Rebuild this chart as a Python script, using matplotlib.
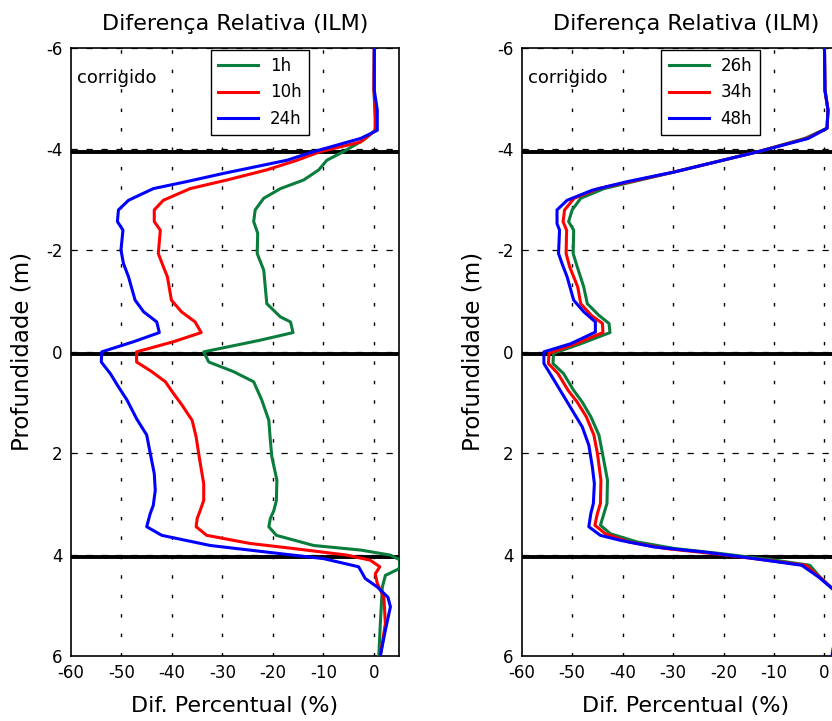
import matplotlib
matplotlib.use("Agg")
import matplotlib.pyplot as plt

plt.rcParams['font.family'] = ['DejaVu Sans']

# ---------------- data ----------------
title = "Diferença Relativa (ILM)"
xlabel = "Dif. Percentual (%)"
ylabel = "Profundidade (m)"
note = "corrigido"
xticks = [-60, -50, -40, -30, -20, -10, 0]
yticks = [-6, -4, -2, 0, 2, 4, 6]
interfaces = [-3.95, 0.05, 4.05]

left_labels = ["1h", "10h", "24h"]
right_labels = ["26h", "34h", "48h"]
colors = ["#0a7d3c", "#ff0000", "#0000ff"]

# left panel
l1_depth = [-6.0, -5.0, -4.6, -4.37, -4.18, -3.95, -3.78, -3.59, -3.39, -3.22, -3.03, -2.80, -2.57, -2.34,
            -1.94, -1.61, -1.28, -0.95, -0.69, -0.59, -0.38, -0.23, 0.0, 0.2, 0.39, 0.59, 0.95, 1.35, 1.74,
            2.07, 2.53, 2.93, 3.13, 3.29, 3.45, 3.62, 3.82, 3.91, 4.01, 4.11, 4.28, 4.41, 4.64, 5.36, 6.0]
l1_val = [0.1, 0.1, 0.3, 0.3, -2.0, -6.0, -9.3, -10.9, -13.9, -18.5, -21.8, -23.5, -23.8, -23.0,
          -23.1, -21.8, -21.5, -21.2, -18.5, -16.5, -16.0, -22.5, -33.7, -32.7, -27.8, -23.8, -22.2, -20.8, -20.5,
          -20.2, -19.2, -19.3, -19.8, -20.5, -20.8, -19.3, -11.9, -2.6, 3.3, 5.3, 5.0, 2.3, 1.7, 1.3, 1.0]

l10_depth = [-6.0, -5.2, -4.77, -4.37, -4.14, -3.95, -3.78, -3.59, -3.39, -3.22, -2.99, -2.80, -2.57, -2.40,
             -1.94, -1.68, -1.48, -1.02, -0.79, -0.59, -0.38, -0.20, 0.0, 0.2, 0.39, 0.59, 0.82, 1.05, 1.35,
             1.68, 2.07, 2.60, 2.93, 3.13, 3.29, 3.45, 3.62, 3.78, 3.88, 4.01, 4.11, 4.24, 4.38, 4.57, 4.84,
             5.36, 6.0]
l10_val = [0.1, 0.0, 0.3, 0.3, -2.6, -10.6, -15.2, -21.2, -29.1, -36.4, -41.7, -43.5, -43.5, -42.3,
           -42.7, -41.7, -40.9, -40.1, -38.1, -35.4, -34.2, -39.7, -47.0, -47.0, -44.0, -41.3, -39.7, -38.0, -36.0,
           -35.2, -34.6, -33.7, -33.7, -34.4, -35.0, -35.2, -33.1, -24.5, -15.9, -5.3, -0.7, 1.2, 0.3, 0.7, 2.0,
           2.3, 1.3]

l24_depth = [-6.0, -5.16, -4.77, -4.37, -4.21, -3.95, -3.78, -3.52, -3.36, -3.22, -2.99, -2.80, -2.57, -2.40,
             -2.01, -1.74, -1.48, -1.02, -0.79, -0.59, -0.38, -0.20, 0.0, 0.2, 0.43, 0.69, 0.95, 1.32, 1.64,
             2.0, 2.40, 2.73, 3.03, 3.19, 3.45, 3.62, 3.82, 3.95, 4.08, 4.24, 4.47, 4.64, 4.84, 5.03, 5.49, 6.0]
l24_val = [0.1, 0.1, 0.7, 0.7, -2.6, -11.9, -17.2, -29.8, -37.0, -43.7, -48.6, -50.6, -50.8, -49.7,
           -50.1, -49.6, -48.6, -47.3, -45.6, -43.0, -42.5, -47.6, -53.9, -54.0, -52.2, -50.6, -48.9, -47.0, -45.0,
           -44.3, -43.5, -43.3, -43.7, -44.3, -45.0, -42.0, -32.4, -21.2, -9.9, -3.0, -1.7, 0.7, 2.8, 3.3, 2.3, 1.3]

# right panel
r_depth = [-6.0, -5.16, -4.77, -4.41, -4.21, -3.95, -3.55, -3.22, -3.03, -2.80, -2.57, -2.40, -1.94, -1.68,
           -1.28, -0.95, -0.72, -0.56, -0.38, -0.16, 0.03, 0.23, 0.43, 0.76, 0.99, 1.28, 1.64, 2.0, 2.53, 2.99,
           3.19, 3.42, 3.59, 3.75, 3.88, 3.98, 4.11, 4.21, 4.44, 4.70, 5.0, 5.5, 6.0]
r26_val = [0.0, 0.1, 0.7, 0.5, -3.9, -13.1, -29.7, -43.7, -48.3, -50.0, -50.7, -49.7, -49.8, -49.0,
           -47.7, -47.0, -44.7, -42.7, -42.5, -48.3, -53.7, -53.8, -51.7, -49.7, -48.0, -46.3, -44.7, -44.0, -43.0,
           -43.1, -43.7, -44.4, -42.4, -37.1, -29.7, -20.5, -9.8, -2.9, -0.9, 1.9, 2.8, 2.6, 2.3]
r34_val = [0.0, 0.1, 0.7, 0.5, -3.5, -13.1, -29.7, -44.8, -49.6, -51.5, -51.8, -51.1, -51.2, -50.5,
           -48.9, -48.3, -46.2, -44.0, -43.9, -49.3, -54.6, -54.7, -52.8, -50.8, -49.0, -47.2, -45.7, -45.0, -44.3,
           -44.4, -45.0, -45.5, -43.4, -38.8, -31.5, -22.0, -11.5, -3.7, -1.0, 1.9, 3.0, 2.7, 2.2]
r48_depth = [-6.0, -5.16, -4.77, -4.41, -4.21, -3.95, -3.55, -3.36, -3.19, -2.99, -2.80, -2.53, -2.40, -1.94,
             -1.74, -1.48, -1.02, -0.79, -0.59, -0.39, -0.16, 0.0, 0.23, 0.49, 0.82, 1.15, 1.48, 1.84, 2.27, 2.60,
             2.99, 3.19, 3.45, 3.62, 3.72, 3.85, 3.95, 4.08, 4.21, 4.44, 4.70, 5.0, 5.5, 6.0]
r48_val = [0.0, 0.1, 0.7, 0.5, -3.2, -13.1, -29.7, -39.0, -46.0, -51.0, -53.0, -53.0, -52.5, -52.7,
           -52.0, -51.0, -49.7, -47.7, -45.4, -45.4, -50.3, -55.6, -55.6, -54.0, -52.0, -50.0, -48.0, -46.7, -46.0,
           -45.6, -45.8, -46.3, -46.7, -44.4, -40.4, -33.7, -23.8, -13.8, -4.5, -1.2, 1.9, 3.2, 2.2, 1.5]

# ---------------- figure ----------------
W, H = 832, 721
fig = plt.figure(figsize=(W / 100, H / 100), dpi=100)

ax_h = (656 - 47.7) / H
ax_b = (H - 656) / H
ax_w = 328 / W
axL = fig.add_axes([71 / W, ax_b, ax_w, ax_h])
axR = fig.add_axes([521.7 / W, ax_b, ax_w, ax_h])

panels = [
    (axL, [(l1_depth, l1_val), (l10_depth, l10_val), (l24_depth, l24_val)], left_labels),
    (axR, [(r_depth, r26_val), (r_depth, r34_val), (r48_depth, r48_val)], right_labels),
]

for ax, series, labels in panels:
    ax.set_xlim(-60, 5)
    ax.set_ylim(6, -6)
    ax.set_xticks(xticks)
    ax.set_yticks(yticks)
    ax.set_xticklabels([str(t) for t in xticks], fontsize=12)
    ax.set_yticklabels([str(t) for t in yticks], fontsize=12)
    ax.tick_params(length=0, pad=6)
    # grid
    for xv in xticks[1:]:
        ax.axvline(xv, color="black", lw=1.0, ls=(0, (2.5, 11.5)), zorder=1)
    for yv in yticks[1:-1]:
        ax.axhline(yv, color="black", lw=0.9, ls=(0, (5, 7)), zorder=1)
    ax.axhline(-6, color="black", lw=0.9, ls=(0, (5, 7)), zorder=1)
    for yv in interfaces:
        ax.axhline(yv, color="black", lw=2.8, zorder=2)
    for (d, v), c, lab in zip(series, colors, labels):
        ax.plot(v, d, color=c, lw=2.2, label=lab, zorder=3)
    for s in ax.spines.values():
        s.set_linewidth(1.2)
    ax.set_title(title, fontsize=16, pad=13)
    ax.set_xlabel(xlabel, fontsize=16, labelpad=10)
    ax.set_ylabel(ylabel, fontsize=16.5, labelpad=9)
    ax.text(0.018, 0.942, note, transform=ax.transAxes, fontsize=13, ha="left", va="baseline")
    leg = ax.legend(loc="upper left", bbox_to_anchor=(0.426, 0.997), fontsize=12,
                    frameon=True, fancybox=False, framealpha=1, edgecolor="black",
                    handlelength=2.4, handletextpad=0.7, labelspacing=0.5,
                    borderpad=0.45, borderaxespad=0)
    leg.get_frame().set_linewidth(1.0)
    leg.set_zorder(5)

fig.savefig("out.png", dpi=100)
